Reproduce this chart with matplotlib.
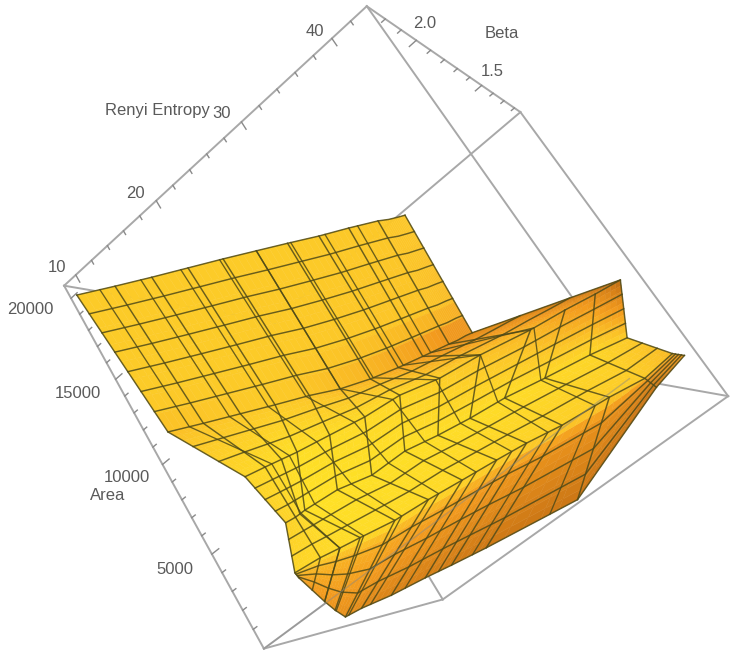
import numpy as np, matplotlib
matplotlib.use('Agg')
import matplotlib.pyplot as plt

W, H = 733, 655
# view fitted to the reference box
ELEV, AZIM, ROLL, FOCAL = 17.555, 108.817, -51.26, 0.3536
BOX = (1.0067, 0.9712, 1)
SCALE, ORIGIN_X, ORIGIN_Y = 3569.03, 409.94, 343.2
AREA_LIM = (0, 20800)
BETA_LIM = (1.14, 2.31)
ENT_LIM = (8.5, 43.7)

BETA = np.array([2.2, 2.1, 2.0, 1.9, 1.8, 1.7, 1.6, 1.5, 1.4, 1.3, 1.26, 1.23, 1.2])
AREA = np.array([
    [21050, 20925, 20825, 20725, 20625, 20525, 20450, 20325, 20275, 20175, 20100, 20050, 20075],
    [11900, 11750, 11550, 11375, 11200, 11000, 10950, 11025, 11200, 11350, 11425, 11500, 11550],
    [7575, 7900, 8250, 8600, 8775, 8900, 9175, 9050, 9175, 9025, 8900, 8700, 8600],
    [4550, 4950, 5425, 5900, 6175, 6125, 6525, 6550, 6650, 6800, 6475, 6100, 5725],
    [2375, 2625, 2825, 3025, 3050, 3250, 3375, 3500, 3625, 3600, 3425, 3200, 3500],
    [2050, 1600, 1150, 825, 550, 725, 650, 625, 625, 550, -125, 2425, 3025]], float)
ENTROPY = np.array([
    [7.2, 9.3, 11.4, 13.6, 15.8, 17.9, 19.9, 22.0, 24.1, 26.2, 26.9, 27.6, 28.1],
    [8.5, 10.2, 12.2, 14.1, 16.1, 17.8, 19.7, 21.6, 23.3, 25.3, 25.9, 26.6, 27.1],
    [12.7, 13.2, 13.4, 13.6, 15.8, 18.4, 21.3, 24.5, 28.2, 32.9, 36.5, 39.6, 42.2],
    [13.8, 13.3, 12.3, 11.4, 13.7, 16.0, 18.8, 21.3, 23.9, 27.0, 31.1, 35.8, 39.5],
    [12.3, 13.4, 13.9, 14.6, 16.9, 19.4, 22.0, 24.8, 27.2, 30.2, 35.2, 38.8, 42.1],
    [12.4, 11.3, 10.2, 9.1, 8.1, 8.4, 10.2, 12.7, 14.4, 17.2, 27.1, 39.2, 42.9]])

SHADE_ROWS = [0, .75, 1, 2, 3, 4, 4.2, 5]
SHADE_COLS = [0, 3, 6, 9, 11, 12]
SHADE = np.array([
    [.9, .9, .9, 1, 1, 1],
    [.9, .9, 1, 1.1, 1.2, 1.3],
    [1.2, .9, 1.5, 2.4, 2.4, 2.4],
    [.5, .2, .5, 1.4, 2.4, 3.3],
    [.7, .1, .2, .3, .5, .9],
    [.5, .3, .4, .7, .9, 1.3],
    [1.2, 1.5, 1.8, 2.2, 2.3, 1.8],
    [2.0, 2.2, 2.7, 3.0, 3.1, 2.0]])
STOPS = np.array([(255, 228, 38), (252, 200, 40), (243, 155, 30), (205, 120, 22), (130, 75, 20)]) / 255

LABELS = [("10", 57, 268), ("20", 135, 193), ("30", 222, 114), ("40", 315, 31),
          ("20000", 30, 310), ("15000", 78, 393), ("10000", 127, 478), ("5000", 175, 570),
          ("Area", 108, 495), ("Renyi Entropy", 157, 110),
          ("2.0", 425, 23), ("1.5", 492, 71), ("Beta", 502, 34)]

fig = plt.figure(figsize=(W / 100, H / 100), dpi=100)
ax = fig.add_axes([0, 0, 1, 1], projection='3d')
x0, y0, w, h = ax._viewLim.bounds
side = SCALE * w
ax.set_position([(ORIGIN_X + SCALE * x0) / W, (H - ORIGIN_Y + SCALE * y0) / H, side / W, side / H])
ax.set_xlim(*AREA_LIM); ax.set_ylim(*BETA_LIM); ax.set_zlim(*ENT_LIM)
ax.view_init(ELEV, AZIM, ROLL)
ax.set_proj_type('persp', focal_length=FOCAL)
ax.set_box_aspect(BOX)
ax.set_axis_off()
ax.computed_zorder = False

def bil(tab, uq, vq):
    iu = np.clip(np.floor(uq).astype(int), 0, tab.shape[0] - 2)
    iv = np.clip(np.floor(vq).astype(int), 0, tab.shape[1] - 2)
    tu = uq - iu; tv = vq - iv
    return (tab[iu, iv] * (1 - tu) * (1 - tv) + tab[iu + 1, iv] * tu * (1 - tv)
            + tab[iu, iv + 1] * (1 - tu) * tv + tab[iu + 1, iv + 1] * tu * tv)

BETA_TAB = np.tile(BETA, (AREA.shape[0], 1))
def surf(uq, vq):
    return bil(AREA, uq, vq), bil(BETA_TAB, uq, vq), bil(ENTROPY, uq, vq)

gu = np.unique(np.r_[np.linspace(0, 1, 9), np.linspace(1, 5, 41), 4.2]); gv = np.linspace(0, 12, 61)
U, V = np.meshgrid(gu, gv, indexing='ij')
X, Y, Z = surf(U, V)
CU, CV = np.meshgrid((gu[:-1] + gu[1:]) / 2, (gv[:-1] + gv[1:]) / 2, indexing='ij')
Sc = bil(SHADE, np.interp(CU, SHADE_ROWS, np.arange(len(SHADE_ROWS))), np.interp(CV, SHADE_COLS, np.arange(len(SHADE_COLS))))
col = np.stack([np.interp(Sc, np.arange(5), STOPS[:, c]) for c in range(3)], axis=-1)
ax.plot_surface(X, Y, Z, facecolors=col, shade=False, rstride=1, cstride=1, linewidth=.3,
                antialiased=True, zorder=2, clip_on=False)

# box
BOXC, TICKC = '#a8a8a8', '#8a8a8a'
a0, a1 = AREA_LIM; b0, b1 = BETA_LIM; e0, e1 = ENT_LIM
edges = [((a1, b1, e0), (a1, b1, e1)), ((a1, b1, e1), (a1, b0, e1)), ((a1, b0, e1), (a0, b0, e1)),
         ((a0, b0, e1), (a0, b0, e0)), ((a0, b0, e0), (a0, b1, e0)), ((a0, b1, e0), (a1, b1, e0)),
         ((a0, b1, e1), (a1, b1, e1)), ((a0, b1, e1), (a0, b0, e1)), ((a1, b0, e0), (a1, b1, e0)),
         ((a1, b0, e0), (a1, b0, e1)), ((a1, b0, e0), (a0, b0, e0)), ((a0, b1, e0), (a0, b1, e1))]
for p, q in edges:
    ax.plot(*zip(p, q), color=BOXC, lw=1.4, zorder=1, clip_on=False)
ax.plot(*zip((a0, b1, e0), (a0, b1, e1)), color='#888888', lw=1.0, alpha=.45, zorder=4, clip_on=False)
for v in np.arange(10, 43, 2.):
    t = 0.022 if v % 10 == 0 else .011
    ax.plot([a1, a1 - t * (a1 - a0)], [b1, b1], [v, v], color=TICKC, lw=1, zorder=1, clip_on=False)
for v in np.arange(1000, 20001, 1000.):
    t = 0.022 if v % 5000 == 0 else .011
    ax.plot([v, v], [b1, b1], [e0, e0 + t * (e1 - e0)], color=TICKC, lw=1, zorder=1, clip_on=False)
for v in np.arange(1.2, 2.21, .1):
    t = 0.022 if abs(v * 2 - round(v * 2)) < .01 else .011
    ax.plot([a1, a1], [v, v], [e1, e1 - t * (e1 - e0)], color=TICKC, lw=1, zorder=1, clip_on=False)

# mesh
MESHC = '#4f4a18'
def line(u, v, lw=1.05):
    xx, yy, zz = surf(np.asarray(u, float), np.asarray(v, float))
    ax.plot(xx, yy, zz, color=MESHC, lw=lw, alpha=.85, zorder=3, clip_on=False)
COUNTS = [7, 3, 4, 3, 4]
levels = [0.]
for i, n in enumerate(COUNTS):
    levels += list(i + np.arange(1, n + 1) / n)
cols = np.arange(13.)
for u in levels:
    line(np.full(13, u), cols)
uu = np.arange(6.)
for v in [0, 1, 2, 3, 4, 5, 6, 7, 8, 9, 12]:
    line(uu, np.full(6, float(v)))
for v in [10, 11]:
    line(uu[2:], np.full(4, float(v)))
OFF = np.array([0, 0, .8, 1.6, 1.4, 1.4])
for c in [.6, 1.7, 2.8, 3.9, 5., 6.1, 7.2, 8.3]:
    line(uu, np.clip(c + OFF, 0, 12), lw=.95)

for t, x, y in LABELS:
    fig.text(x / W, 1 - y / H, t, ha='center', va='center', fontsize=12, family='Liberation Sans', color='#5a5a5a')
fig.savefig('out.png', dpi=100)
